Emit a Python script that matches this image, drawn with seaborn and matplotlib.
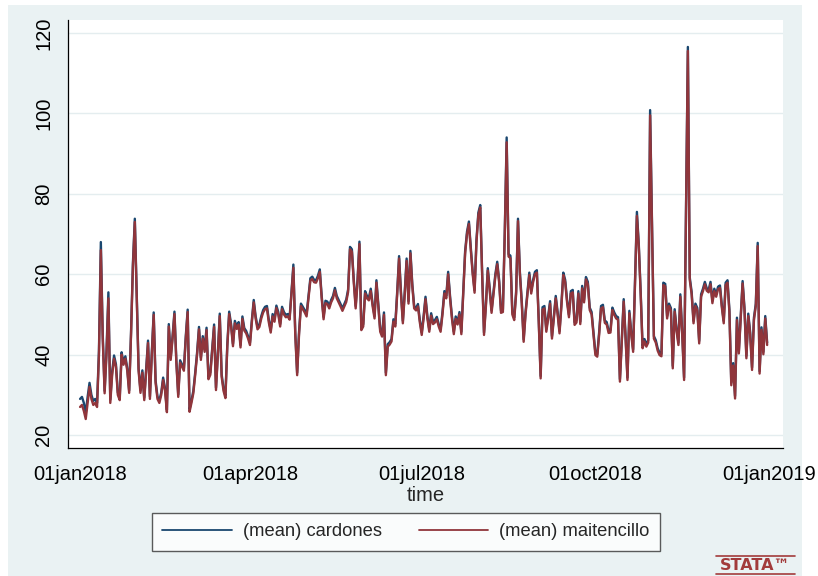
import numpy as np
import pandas as pd
import matplotlib
matplotlib.use("Agg")
import matplotlib.pyplot as plt
import seaborn as sns
from matplotlib.patches import Rectangle
from matplotlib.lines import Line2D

# Daily means for 2018, one row per week (Mon..Sun)
maitencillo = [
    27.0, 27.5, 26.0, 24.0, 28.0, 32.0, 29.0,
    27.5, 28.0, 27.0, 40.0, 66.0, 44.0, 30.4,
    40.0, 54.0, 28.0, 35.0, 39.0, 37.0, 30.0,
    28.7, 40.0, 37.5, 39.0, 36.0, 30.5, 45.0,
    62.0, 73.0, 55.0, 36.0, 30.5, 35.5, 28.7,
    36.0, 42.9, 29.0, 40.0, 49.9, 33.0, 29.0,
    28.0, 30.0, 33.7, 31.0, 25.7, 47.0, 38.7,
    44.0, 50.1, 38.0, 29.5, 38.0, 37.0, 36.0,
    44.0, 50.6, 25.8, 28.0, 30.4, 35.0, 40.0,
    46.3, 38.7, 44.0, 40.7, 46.1, 33.9, 35.0,
    41.0, 46.9, 31.2, 40.0, 49.6, 34.5, 31.0,
    29.2, 42.0, 50.1, 47.0, 42.1, 47.8, 46.4,
    47.5, 41.8, 48.9, 46.0, 45.3, 44.0, 42.4,
    48.0, 53.0, 49.0, 46.3, 46.9, 49.0, 50.5,
    51.3, 51.5, 48.0, 45.5, 49.5, 48.2, 51.6,
    50.0, 47.0, 51.3, 50.0, 49.3, 49.5, 48.7,
    55.0, 61.6, 45.0, 34.9, 45.0, 52.1, 51.3,
    50.5, 49.5, 54.0, 58.4, 58.8, 58.0, 57.9,
    59.0, 60.6, 54.0, 48.8, 52.8, 52.6, 51.5,
    53.0, 54.0, 56.0, 54.0, 53.0, 52.0, 50.9,
    52.0, 53.1, 55.6, 66.2, 65.6, 58.0, 51.5,
    58.0, 67.5, 46.1, 47.0, 55.2, 54.0, 53.5,
    55.8, 52.0, 49.0, 57.9, 52.0, 45.7, 44.5,
    49.9, 34.9, 42.0, 42.5, 43.3, 48.2, 47.0,
    55.0, 63.9, 55.0, 47.8, 55.0, 63.3, 52.7,
    65.2, 57.0, 51.5, 51.0, 52.0, 48.0, 44.9,
    49.0, 53.8, 49.0, 45.7, 49.7, 47.6, 48.0,
    48.8, 47.0, 45.7, 50.0, 55.2, 54.0, 60.0,
    54.0, 49.0, 45.1, 48.9, 47.5, 50.0, 45.1,
    55.0, 65.2, 70.0, 72.5, 66.0, 60.0, 55.4,
    68.0, 74.7, 76.6, 60.0, 44.9, 52.0, 60.9,
    56.0, 50.4, 55.0, 59.4, 62.5, 58.0, 50.4,
    50.6, 70.0, 92.8, 64.4, 64.0, 50.0, 48.6,
    55.0, 73.2, 60.0, 52.7, 43.2, 50.0, 55.0,
    59.8, 55.2, 58.0, 60.0, 60.4, 48.0, 34.1,
    51.2, 51.5, 45.7, 49.0, 52.7, 44.0, 49.0,
    54.0, 50.0, 45.3, 52.0, 59.8, 58.0, 53.0,
    49.3, 55.2, 55.5, 47.4, 48.0, 55.2, 47.6,
    56.5, 53.0, 58.7, 57.5, 51.1, 50.0, 45.0,
    39.9, 39.5, 45.0, 51.5, 51.8, 47.9, 47.5,
    45.4, 45.5, 51.1, 49.9, 49.0, 48.7, 33.3,
    43.0, 53.2, 44.0, 33.7, 50.3, 45.0, 40.7,
    58.0, 74.5, 66.8, 55.0, 41.6, 43.3, 42.0,
    43.0, 99.5, 72.0, 44.0, 43.0, 41.0, 39.9,
    39.6, 57.3, 57.0, 49.0, 52.1, 51.0, 36.6,
    50.7, 46.0, 42.4, 54.4, 45.0, 33.7, 75.0,
    115.5, 58.6, 55.0, 47.8, 52.1, 51.0, 42.8,
    54.4, 55.8, 57.5, 55.9, 55.5, 57.5, 52.8,
    55.8, 54.4, 56.3, 56.6, 51.7, 47.8, 57.3,
    57.9, 50.6, 32.4, 37.3, 29.1, 48.6, 40.3,
    49.0, 57.7, 51.0, 39.1, 49.6, 45.0, 36.2,
    48.6, 52.1, 67.0, 35.3, 46.2, 40.1, 49.0,
    42.4,
]

cardones = [
    29.0, 29.5, 28.0, 25.5, 29.5, 33.0, 30.0,
    28.5, 29.0, 28.0, 41.0, 68.0, 45.0, 31.0,
    41.0, 55.5, 28.8, 35.8, 39.8, 37.6, 30.6,
    29.3, 40.6, 38.1, 39.6, 36.6, 31.1, 45.6,
    62.8, 73.8, 55.6, 36.6, 31.1, 36.1, 29.3,
    36.6, 43.5, 29.6, 40.6, 50.5, 33.6, 29.6,
    28.6, 30.6, 34.3, 31.6, 26.3, 47.6, 39.3,
    44.6, 50.7, 38.6, 30.1, 38.6, 37.6, 36.6,
    44.6, 51.2, 26.4, 28.6, 31.0, 35.6, 40.6,
    46.9, 39.3, 44.6, 41.3, 46.7, 34.5, 35.6,
    41.6, 47.5, 31.8, 40.6, 50.2, 35.1, 31.6,
    29.8, 42.6, 50.7, 47.6, 42.7, 48.4, 47.0,
    48.1, 42.4, 49.5, 46.6, 45.9, 44.6, 43.0,
    48.6, 53.6, 49.6, 46.9, 47.5, 49.6, 51.1,
    51.9, 52.1, 48.6, 46.1, 50.1, 48.8, 52.2,
    50.6, 47.6, 51.9, 50.6, 49.9, 50.1, 49.3,
    55.6, 62.4, 45.6, 35.5, 45.6, 52.7, 51.9,
    51.1, 50.1, 54.6, 59.0, 59.4, 58.6, 58.5,
    59.6, 61.2, 54.6, 49.4, 53.4, 53.2, 52.1,
    53.6, 54.6, 56.6, 54.6, 53.6, 52.6, 51.5,
    52.6, 53.7, 56.2, 66.8, 66.2, 58.6, 52.1,
    58.6, 68.1, 46.7, 47.6, 55.8, 54.6, 54.1,
    56.4, 52.6, 49.6, 58.5, 52.6, 46.3, 45.1,
    50.5, 35.5, 42.6, 43.1, 43.9, 48.8, 47.6,
    55.6, 64.5, 55.6, 48.4, 55.6, 63.9, 53.3,
    65.8, 57.6, 52.1, 51.6, 52.6, 48.6, 45.5,
    49.6, 54.4, 49.6, 46.3, 50.3, 48.2, 48.6,
    49.4, 47.6, 46.3, 50.6, 55.8, 54.6, 60.6,
    54.6, 49.6, 45.7, 49.5, 48.1, 50.6, 45.7,
    55.6, 65.8, 70.6, 73.1, 66.6, 60.6, 56.0,
    68.6, 75.3, 77.2, 60.6, 45.5, 52.6, 61.5,
    56.6, 51.0, 55.6, 60.0, 63.1, 58.6, 51.0,
    51.2, 70.6, 94.0, 65.0, 64.6, 50.6, 49.2,
    55.6, 73.8, 60.6, 53.3, 43.8, 50.6, 55.6,
    60.4, 55.8, 58.6, 60.6, 61.0, 48.6, 34.7,
    51.8, 52.1, 46.3, 49.6, 53.3, 44.6, 49.6,
    54.6, 50.6, 45.9, 52.6, 60.4, 58.6, 53.6,
    49.9, 55.8, 56.1, 48.0, 48.6, 55.8, 48.2,
    57.1, 53.6, 59.3, 58.1, 51.7, 50.6, 45.6,
    40.5, 40.1, 45.6, 52.1, 52.4, 48.5, 48.1,
    46.0, 46.1, 51.7, 50.5, 49.6, 49.3, 33.9,
    43.6, 53.8, 44.6, 34.3, 50.9, 45.6, 41.3,
    58.6, 75.5, 67.4, 55.6, 42.2, 43.9, 42.6,
    43.6, 100.8, 72.6, 44.6, 43.6, 41.6, 40.5,
    40.2, 57.9, 57.6, 49.6, 52.7, 51.6, 37.2,
    51.3, 46.6, 43.0, 55.0, 45.6, 34.3, 75.6,
    116.5, 59.2, 55.6, 48.4, 52.7, 51.6, 43.4,
    55.0, 56.4, 58.1, 56.5, 56.1, 58.1, 53.4,
    56.4, 55.0, 56.9, 57.2, 52.3, 48.4, 57.9,
    58.5, 51.2, 33.0, 37.9, 29.7, 49.2, 40.9,
    49.6, 58.3, 51.6, 39.7, 50.2, 45.6, 36.8,
    49.2, 52.7, 67.8, 35.9, 46.8, 40.7, 49.6,
    43.0,
]

series_names = ["(mean) cardones", "(mean) maitencillo"]
start_date = "2018-01-01"
tick_dates = ["2018-01-01", "2018-04-01", "2018-07-01", "2018-10-01", "2019-01-01"]
tick_labels = ["01jan2018", "01apr2018", "01jul2018", "01oct2018", "01jan2019"]
y_ticks = [20, 40, 60, 80, 100, 120]

BLUE = "#1a476f"
RED = "#90353b"
BG = "#eaf2f3"
STATA_RED = "#a23b3b"

dates = pd.date_range(start_date, periods=len(maitencillo), freq="D")
df = pd.DataFrame({
    "time": np.concatenate([dates, dates]),
    "value": cardones + maitencillo,
    "series": np.repeat(series_names, len(dates)),
})

sns.set_style("white")
plt.rcParams["font.family"] = ["Liberation Sans", "DejaVu Sans"]

W, H = 818, 576
fig = plt.figure(figsize=(W / 100, H / 100), dpi=100, facecolor="white")
fig.patches.append(Rectangle((8 / W, 0), (802 - 8) / W, (H - 5) / H,
                             transform=fig.transFigure, facecolor=BG,
                             edgecolor="none", zorder=-10))

ax = fig.add_axes([68 / W, (H - 448) / H, (783 - 68) / W, (448 - 20) / H])
ax.set_facecolor("white")

sns.lineplot(data=df, x="time", y="value", hue="series", hue_order=series_names,
             palette=[BLUE, RED], linewidth=1.7, estimator=None, legend=False, ax=ax)

t0 = pd.Timestamp(start_date)
ax.set_xlim(t0 - pd.Timedelta(days=6.4), t0 + pd.Timedelta(days=372.4))
ax.set_ylim(16.8, 123.2)

ax.set_yticks(y_ticks)
ax.set_yticklabels([str(v) for v in y_ticks], rotation=90, va="center")
ax.set_xticks(pd.to_datetime(tick_dates))
ax.set_xticklabels(tick_labels)
ax.tick_params(axis="both", direction="out", length=6, width=0.9, color="black",
               labelsize=14.5, labelcolor="black")
ax.tick_params(axis="x", pad=6.5)
ax.tick_params(axis="y", pad=4.5)

ax.grid(axis="y", color="#e4edef", linewidth=1.0)
ax.grid(axis="x", visible=False)
ax.set_axisbelow(True)

for side in ["top", "right"]:
    ax.spines[side].set_visible(False)
for side in ["left", "bottom"]:
    ax.spines[side].set_color("black")
    ax.spines[side].set_linewidth(0.9)

ax.set_xlabel("time", fontsize=14.5, labelpad=1)
ax.set_ylabel("")

handles = [Line2D([], [], color=BLUE, linewidth=1.3),
           Line2D([], [], color=RED, linewidth=1.3)]
leg = fig.legend(handles, series_names, loc="center",
                 bbox_to_anchor=((151 + 661) / 2 / W, 1 - 532 / H),
                 ncol=2, fontsize=13.2, frameon=True, fancybox=False,
                 handlelength=3.8, handletextpad=0.6, columnspacing=2.0,
                 borderpad=0.55)
leg.get_frame().set_edgecolor("#333333")
leg.get_frame().set_linewidth(1.0)
leg.get_frame().set_facecolor("white")

# Stata mark in the bottom-right corner
fig.text(755.5 / W, 1 - 565.5 / H, "STATA\u2122", color=STATA_RED, fontsize=11.5,
         ha="center", va="center", family=["DejaVu Sans"], fontweight="bold")
for yy in (556, 574):
    fig.add_artist(Line2D([716 / W, 795 / W], [1 - yy / H, 1 - yy / H],
                          transform=fig.transFigure, color=STATA_RED, linewidth=1.2))

fig.savefig("out.png", dpi=100, facecolor=fig.get_facecolor())
